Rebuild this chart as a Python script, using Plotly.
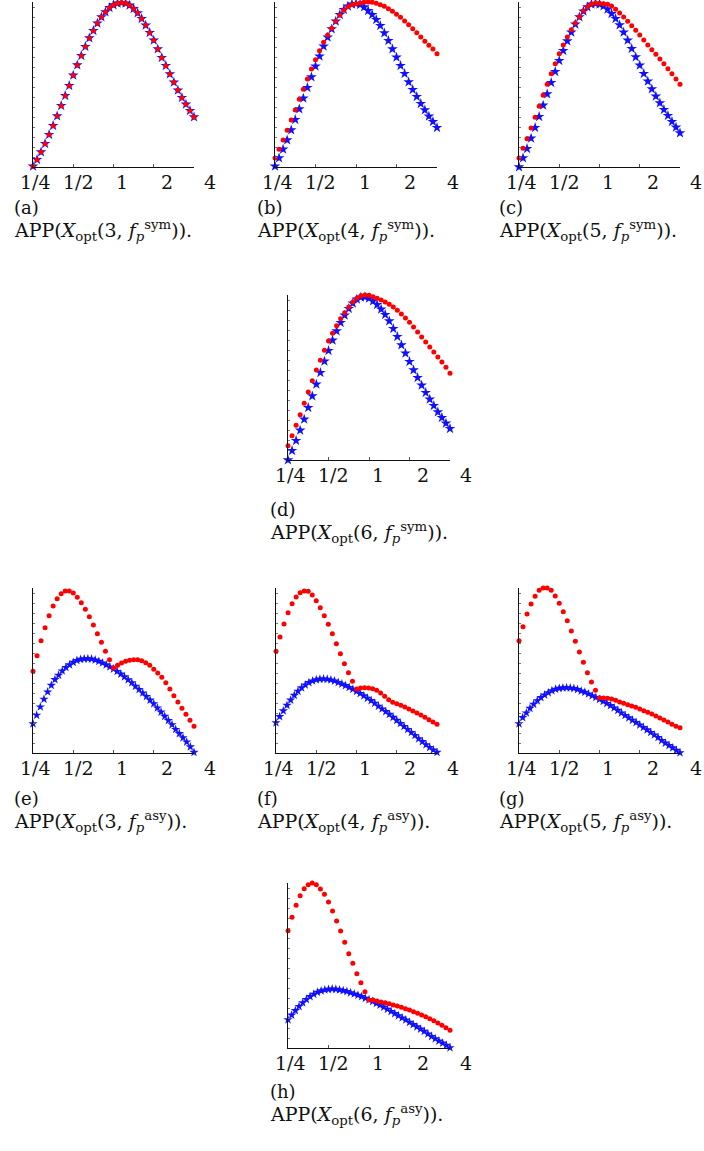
import math
import plotly.graph_objects as go

# ---------------- data (heights in arbitrary units, axis spans 0..165) ----------------
TICK_VALUES = [0.25, 0.5, 1, 2, 4]
TICK_LABELS = ["1/4", "1/2", "1", "2", "4"]

X41 = [2 ** (-2 + 0.1 * k) for k in range(41)]
X45 = [2 ** (-2 + 4 * k / 44) for k in range(45)]

A_RED = [0.7, 7.3, 15.0, 23.3, 32.3, 41.3, 51.0, 61.3, 71.3, 81.3, 91.7, 102.0, 111.3, 120.3, 129.0, 136.3, 143.7, 150.0, 155.0, 159.3, 162.0, 163.7, 164.3, 163.7, 161.7, 158.3, 154.0, 148.3, 141.7, 134.3, 126.7, 118.0, 109.3, 101.3, 93.0, 84.7, 76.7, 69.3, 62.7, 56.3, 50.0]
A_BLUE = [0.7, 7.3, 15.0, 23.3, 32.3, 41.3, 51.0, 61.3, 71.3, 81.3, 91.7, 102.0, 111.3, 120.3, 129.0, 136.3, 143.7, 150.0, 155.0, 159.3, 162.0, 163.7, 164.3, 163.7, 161.7, 158.3, 154.0, 148.3, 141.7, 134.3, 126.7, 118.0, 109.3, 101.3, 93.0, 84.7, 76.7, 69.3, 62.7, 56.3, 50.0]

B_RED = [9.0, 17.7, 27.0, 36.7, 47.0, 57.0, 67.7, 77.7, 88.0, 98.0, 107.3, 116.3, 124.7, 132.0, 138.7, 145.7, 151.7, 156.7, 160.3, 162.3, 163.3, 164.0, 164.7, 165.0, 164.7, 163.7, 162.3, 160.7, 158.3, 155.7, 152.7, 149.7, 146.0, 142.3, 138.3, 134.3, 130.0, 125.7, 121.7, 118.0, 113.3]
B_BLUE = [0.7, 9.0, 17.7, 27.0, 37.0, 47.3, 58.0, 68.7, 79.3, 90.0, 100.7, 110.7, 120.7, 129.7, 138.0, 145.7, 152.3, 157.3, 160.7, 162.7, 163.3, 162.3, 160.0, 156.3, 152.3, 147.3, 141.3, 134.0, 126.3, 118.0, 109.7, 101.3, 93.3, 85.0, 77.3, 70.3, 63.3, 57.0, 50.7, 45.3, 39.3]

C_RED = [9.0, 18.7, 28.3, 39.0, 49.7, 60.7, 71.7, 82.7, 93.3, 103.3, 113.3, 122.0, 130.0, 137.3, 144.0, 150.3, 156.0, 160.3, 163.0, 164.0, 163.7, 163.3, 162.7, 161.0, 157.7, 154.0, 150.0, 145.7, 141.3, 136.7, 132.0, 127.0, 122.0, 117.3, 112.7, 108.0, 103.3, 98.3, 93.3, 88.0, 82.7]
C_BLUE = [0.0, 9.0, 18.3, 28.7, 39.3, 50.3, 61.7, 73.0, 84.3, 95.3, 106.3, 116.3, 126.0, 134.7, 142.7, 150.0, 155.7, 160.0, 162.7, 163.3, 162.7, 161.0, 157.7, 153.3, 148.3, 142.0, 134.7, 126.7, 118.3, 110.0, 101.7, 93.3, 85.7, 78.0, 70.7, 64.0, 57.3, 51.3, 45.3, 39.7, 34.0]

D_RED = [14.3, 24.3, 34.7, 45.3, 56.7, 68.0, 79.3, 90.0, 99.7, 109.7, 119.0, 126.7, 134.3, 141.3, 147.3, 153.0, 158.0, 161.7, 164.3, 165.0, 164.7, 163.3, 161.7, 160.0, 158.0, 155.7, 153.0, 149.7, 146.0, 142.0, 137.7, 133.0, 128.0, 123.0, 118.0, 113.0, 108.0, 103.0, 98.0, 92.7, 86.7]
D_BLUE = [0.0, 9.3, 19.3, 29.7, 40.7, 52.3, 64.0, 75.7, 87.3, 98.7, 109.3, 119.7, 129.0, 137.3, 144.7, 151.3, 156.7, 160.7, 162.7, 163.0, 161.7, 159.0, 155.3, 150.7, 145.3, 139.0, 131.3, 123.3, 115.0, 106.7, 98.3, 90.0, 82.3, 74.7, 67.3, 60.7, 54.3, 48.0, 42.3, 36.7, 31.3]

E_RED = [81.7, 97.3, 112.3, 125.3, 137.3, 147.0, 154.3, 159.3, 162.0, 162.0, 160.0, 155.7, 150.3, 143.7, 136.3, 128.0, 119.3, 110.7, 101.7, 93.3, 85.0, 87.7, 90.0, 91.7, 92.7, 93.3, 93.3, 92.3, 90.3, 87.7, 83.7, 80.0, 75.7, 70.3, 64.0, 57.3, 51.0, 44.7, 38.7, 32.7, 26.7]
E_BLUE = [29.3, 37.8, 46.1, 53.8, 61.1, 67.7, 73.4, 77.8, 82.1, 85.5, 88.2, 90.7, 92.5, 93.7, 94.2, 94.3, 94.0, 93.0, 91.7, 90.1, 88.2, 86.1, 84.0, 81.6, 78.9, 76.2, 73.3, 70.3, 66.8, 63.5, 60.1, 56.5, 52.9, 49.3, 45.1, 40.9, 36.7, 32.5, 28.3, 23.6, 19.4, 15.3, 11.0, 6.2, 0.7]

F_RED = [101.7, 116.0, 129.0, 140.3, 149.3, 156.0, 160.3, 162.0, 161.7, 158.0, 152.3, 145.3, 137.3, 128.7, 119.3, 109.3, 99.3, 89.3, 80.3, 71.7, 64.0, 65.0, 65.3, 65.0, 64.3, 62.7, 60.0, 56.7, 53.3, 50.7, 49.3, 47.7, 46.0, 44.0, 42.0, 40.0, 38.0, 35.7, 33.3, 31.0, 28.7]
F_BLUE = [30.3, 36.4, 42.2, 47.7, 52.9, 57.7, 61.8, 65.2, 68.0, 70.4, 72.1, 73.3, 73.9, 74.0, 73.8, 73.1, 72.0, 70.5, 69.0, 67.4, 65.6, 63.8, 61.7, 59.5, 57.2, 54.8, 52.4, 49.8, 46.8, 44.1, 41.4, 38.7, 35.7, 32.7, 29.6, 26.6, 23.6, 20.6, 17.6, 14.3, 11.4, 8.3, 5.5, 3.1, 0.7]

G_RED = [112.3, 126.3, 139.0, 149.0, 156.7, 162.7, 165.0, 165.0, 162.7, 157.0, 149.7, 141.3, 132.3, 122.0, 111.7, 101.0, 90.7, 80.3, 71.0, 62.7, 55.3, 55.0, 54.7, 54.0, 52.7, 51.0, 49.7, 48.3, 47.0, 45.7, 44.0, 42.3, 40.7, 39.0, 37.0, 35.0, 33.0, 31.0, 28.7, 26.7, 25.3]
G_BLUE = [29.3, 35.4, 40.1, 44.7, 48.8, 52.3, 55.4, 58.0, 60.3, 62.3, 63.8, 64.7, 65.2, 65.3, 65.1, 64.6, 63.5, 62.0, 60.8, 59.1, 57.3, 55.5, 53.7, 51.6, 49.5, 47.4, 45.1, 42.7, 40.0, 37.6, 35.2, 32.8, 30.5, 28.0, 25.6, 23.2, 20.6, 18.1, 15.5, 12.5, 9.9, 7.5, 5.2, 2.7, 0.3]

H_RED = [117.3, 130.7, 142.7, 152.3, 159.3, 163.3, 165.0, 163.3, 159.0, 153.7, 146.0, 137.0, 127.0, 117.0, 105.7, 94.3, 84.7, 74.3, 65.3, 56.3, 48.0, 48.0, 47.0, 46.0, 45.3, 44.3, 43.0, 42.0, 40.7, 39.3, 38.0, 36.3, 34.7, 33.0, 31.3, 29.3, 27.3, 25.0, 22.7, 20.3, 17.7]
H_BLUE = [28.3, 32.9, 37.4, 41.5, 45.3, 48.5, 51.4, 53.8, 55.8, 57.2, 58.1, 58.7, 59.0, 58.8, 58.2, 57.4, 56.5, 55.3, 54.1, 52.8, 51.4, 49.8, 48.3, 46.5, 44.7, 42.9, 40.9, 38.8, 36.5, 34.4, 32.3, 30.1, 28.1, 25.7, 23.4, 21.2, 18.9, 16.7, 14.1, 11.5, 9.3, 7.0, 4.9, 2.7, 0.3]

PANEL_LETTERS = ["a", "b", "c", "d", "e", "f", "g", "h"]
PANEL_N = [3, 4, 5, 6, 3, 4, 5, 6]
PANEL_KIND = ["sym", "sym", "sym", "sym", "asy", "asy", "asy", "asy"]

# ---------------- layout geometry (pixels) ----------------
W, H = 704, 1151
BOXES = [
    (33, 194, 167), (275, 437, 167), (519, 680, 167),
    (288, 450, 460),
    (33, 194, 753), (276, 437, 753), (519, 680, 753),
    (288, 450, 1048),
]
PANEL_H = 165
Y_MAX = 165
CAPTION_POS = [(12, 208), (255, 208), (497, 208), (268, 509),
               (12, 799), (255, 799), (497, 799), (268, 1091)]
LABEL_SHIFT = [2, 5, 8.5, 13, 16]

reds = [A_RED, B_RED, C_RED, D_RED, E_RED, F_RED, G_RED, H_RED]
blues = [A_BLUE, B_BLUE, C_BLUE, D_BLUE, E_BLUE, F_BLUE, G_BLUE, H_BLUE]

SERIF = "DejaVu Serif"

fig = go.Figure()
annotations = []
layout = {}

for i in range(8):
    n = i + 1
    xa = "x" if n == 1 else f"x{n}"
    ya = "y" if n == 1 else f"y{n}"
    left, right, bottom = BOXES[i]
    top = bottom - PANEL_H
    asy = len(blues[i]) == 45
    bx = X45 if asy else X41
    fig.add_trace(go.Scatter(
        x=bx, y=blues[i], mode="markers", xaxis=xa, yaxis=ya,
        marker=dict(symbol="star", size=7 if asy else 8, color="#1010ff",
                    line=dict(width=0)),
        cliponaxis=False, showlegend=False))
    fig.add_trace(go.Scatter(
        x=X41, y=reds[i], mode="markers", xaxis=xa, yaxis=ya,
        marker=dict(symbol="circle", size=5, color="#ff0000", line=dict(width=0)),
        cliponaxis=False, showlegend=False))

    xkey = "xaxis" if n == 1 else f"xaxis{n}"
    ykey = "yaxis" if n == 1 else f"yaxis{n}"
    layout[xkey] = dict(
        domain=[left / W, right / W], anchor=ya, type="log",
        range=[math.log10(0.25), math.log10(4)],
        tickvals=TICK_VALUES, showticklabels=False, ticks="inside", ticklen=3,
        tickcolor="#555", showline=True, linecolor="#111", linewidth=1,
        showgrid=False, zeroline=False)
    layout[ykey] = dict(
        domain=[(H - bottom) / H, (H - top) / H], anchor=xa,
        range=[0, Y_MAX], dtick=10, ticks="inside", ticklen=2, tickcolor="#777",
        showticklabels=False, showline=True, linecolor="#111", linewidth=1,
        showgrid=False, zeroline=False)

    for tv, tl, sh in zip(TICK_VALUES, TICK_LABELS, LABEL_SHIFT):
        annotations.append(dict(
            x=math.log10(tv), y=0, xref=xa, yref=ya, text=tl, showarrow=False,
            xanchor="center", yanchor="middle", xshift=sh, yshift=-15,
            font=dict(family=SERIF, size=19, color="#111")))

    cx, cy = CAPTION_POS[i]
    annotations.append(dict(
        x=cx / W, y=(H - cy) / H, xref="paper", yref="paper",
        text=f"({PANEL_LETTERS[i]})", showarrow=False, xanchor="left", yanchor="middle",
        font=dict(family=SERIF, size=18, color="#111")))
    annotations.append(dict(
        x=cx / W, y=(H - cy - 23) / H, xref="paper", yref="paper",
        text=(f"APP(<i>X</i><sub>opt</sub>({PANEL_N[i]}, <i>f</i><sub><i>p</i></sub>"
              f"<sup>{PANEL_KIND[i]}</sup>))."),
        showarrow=False, xanchor="left", yanchor="middle",
        font=dict(family=SERIF, size=19, color="#111")))

fig.update_layout(
    width=W, height=H, margin=dict(l=0, r=0, t=0, b=0),
    paper_bgcolor="white", plot_bgcolor="white",
    annotations=annotations, **layout)

fig.write_html("out.html")
